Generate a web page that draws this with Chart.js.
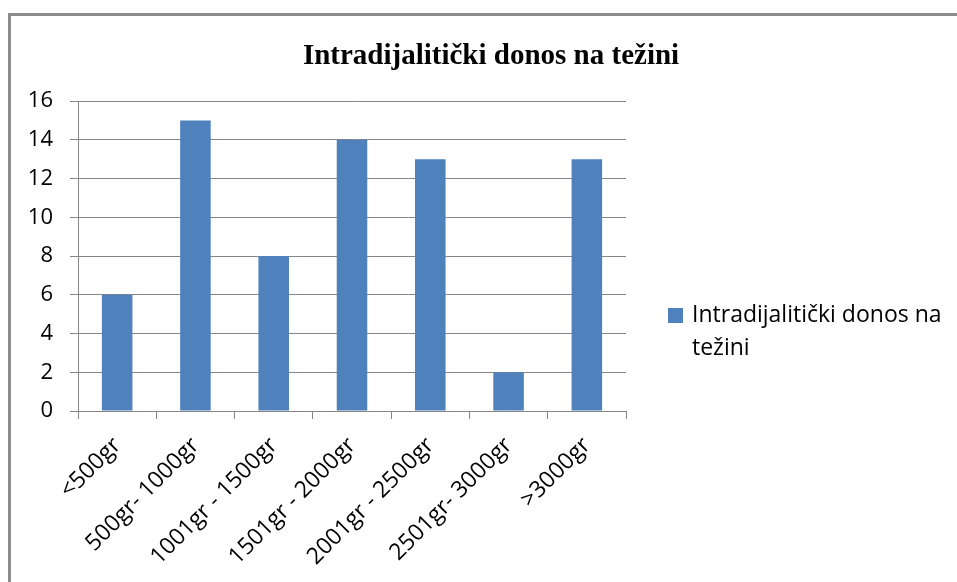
<!DOCTYPE html>
<html><head><meta charset="utf-8">
<script src="https://cdn.jsdelivr.net/npm/chart.js@4/dist/chart.umd.min.js"></script>
<style>
html,body{margin:0;padding:0;background:#fff;overflow:hidden}
#wrap{position:relative;width:957px;height:582px}
#frame{position:absolute;left:8px;top:13px;width:1000px;height:1000px;border:3px solid #8c8c8c;box-sizing:border-box}
canvas{position:absolute;left:0;top:0}
</style></head><body>
<div id="wrap"><div id="frame"></div><canvas id="c" width="957" height="582"></canvas></div>
<script>
const chartTitle = "Intradijalitički donos na težini";
const seriesName = "Intradijalitički donos na težini";
const categories = ["<500gr", "500gr- 1000gr", "1001gr - 1500gr", "1501gr - 2000gr", "2001gr - 2500gr", "2501gr- 3000gr", ">3000gr"];
const values = [6, 15, 8, 14, 13, 2, 13];
const yTicks = [0, 2, 4, 6, 8, 10, 12, 14, 16];

const BAR = '#4F81BD';
const GRID = '#868686';
const FONT = '"Open Sans", "Noto Sans", sans-serif';

const decor = {
  id: 'decor',
  afterDraw(chart) {
    const ctx = chart.ctx;
    ctx.save();
    // title
    ctx.fillStyle = '#000';
    ctx.font = 'bold 29px "Liberation Serif", "DejaVu Serif", serif';
    ctx.textAlign = 'center';
    ctx.textBaseline = 'alphabetic';
    ctx.fillText(chartTitle, 491, 64);
    // legend
    const ds = chart.data.datasets[0];
    ctx.fillStyle = ds.backgroundColor;
    ctx.fillRect(668, 308, 15, 15);
    ctx.fillStyle = '#000';
    ctx.font = '23px ' + FONT;
    ctx.textAlign = 'left';
    const words = ds.label.split(' ');
    const lines = [];
    let cur = '';
    for (const w of words) {
      const t = cur ? cur + ' ' + w : w;
      if (ctx.measureText(t).width > 262 && cur) { lines.push(cur); cur = w; } else cur = t;
    }
    if (cur) lines.push(cur);
    lines.forEach((l, i) => ctx.fillText(l, 692, 322 + i * 33));
    ctx.restore();
  }
};

new Chart(document.getElementById('c'), {
  type: 'bar',
  data: {
    labels: categories,
    datasets: [{
      label: seriesName,
      data: values,
      backgroundColor: BAR,
      borderWidth: 0,
      categoryPercentage: 1,
      barPercentage: 0.39
    }]
  },
  options: {
    responsive: false,
    animation: false,
    layout: { padding: { left: 10, right: 331, top: 101, bottom: 0 } },
    plugins: { legend: { display: false }, title: { display: false }, tooltip: { enabled: false } },
    scales: {
      x: {
        afterFit(s) { s.height = 171; },
        grid: { offset: true, drawOnChartArea: false, drawTicks: true, tickLength: 8, color: GRID, lineWidth: 1 },
        border: { display: true, color: GRID, width: 1 },
        ticks: { minRotation: 45, maxRotation: 45, autoSkip: false, color: '#000', font: { family: FONT, size: 23 }, padding: 13 }
      },
      y: {
        min: 0, max: 16,
        afterFit(s) { s.width = 68; },
        afterBuildTicks(s) { s.ticks = yTicks.map(v => ({ value: v })); },
        grid: { color: GRID, lineWidth: 1, tickLength: 8 },
        border: { display: true, color: GRID, width: 1 },
        ticks: { color: '#000', font: { family: FONT, size: 22 }, padding: 17 }
      }
    }
  },
  plugins: [decor]
});
</script>
</body></html>
